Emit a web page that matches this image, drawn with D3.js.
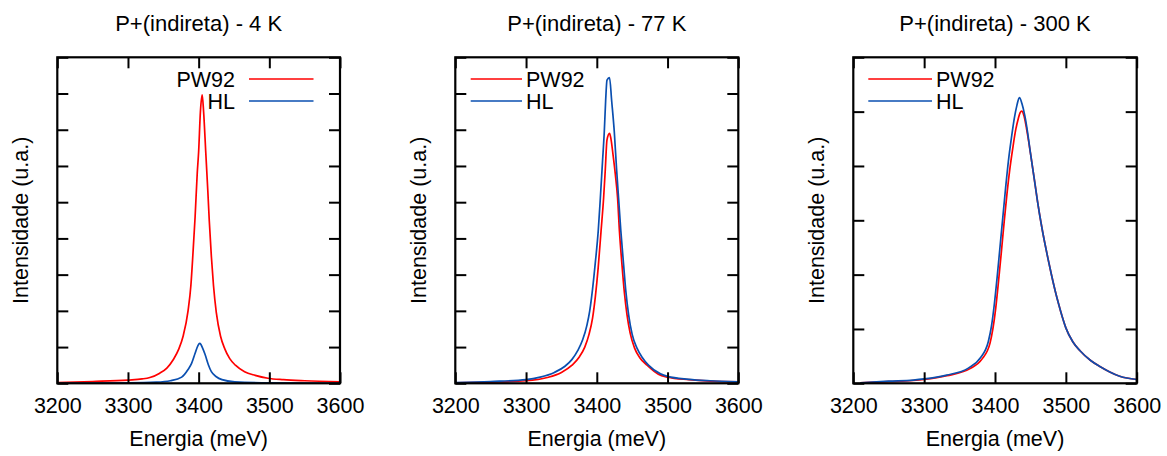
<!DOCTYPE html>
<html><head><meta charset="utf-8">
<script src="https://cdn.jsdelivr.net/npm/d3@7"></script>
<style>
html,body{margin:0;padding:0;background:#fff;}
svg text{font-family:"Liberation Sans",Arial,Helvetica,sans-serif;fill:#000;}
</style></head>
<body><svg id="chart" width="1167" height="456"></svg>
<script>
// ---------- DATA ----------
const titles = ["P+(indireta) - 4 K", "P+(indireta) - 77 K", "P+(indireta) - 300 K"];
const seriesNames = ["PW92", "HL"];
const xTicks = [3200, 3300, 3400, 3500, 3600];
const yMax = [9, 9, 6];

// [energy (meV), intensity (a.u.)]
const pw92_4K = [[3200,0.02],[3250,0.05],[3300,0.09],[3320,0.12],[3331,0.16],[3345,0.28],[3355,0.42],[3364,0.65],[3372,0.95],[3378,1.3],[3385,2.0],[3389,2.7],[3392,3.6],[3395,4.6],[3398,5.8],[3400,6.4],[3402.5,7.5],[3405,7.96],[3407,7.5],[3410,6.4],[3413,5.3],[3415,4.5],[3418,3.5],[3421,2.7],[3425,1.95],[3431,1.3],[3437,0.95],[3444,0.68],[3452,0.5],[3465,0.32],[3480,0.22],[3498,0.14],[3520,0.1],[3550,0.07],[3600,0.04]];
const hl_4K = [[3200,0.0],[3300,0.01],[3340,0.03],[3360,0.07],[3376,0.17],[3385,0.38],[3390,0.55],[3395,0.83],[3399,1.04],[3401.5,1.1],[3403,1.08],[3405,1.0],[3409,0.8],[3414,0.5],[3418,0.32],[3425,0.18],[3433,0.1],[3451,0.04],[3500,0.01],[3600,0.0]];

const pw92_77K = [[3200,0.01],[3250,0.03],[3300,0.07],[3330,0.16],[3350,0.3],[3365,0.5],[3375,0.72],[3383,1.0],[3389,1.35],[3394,1.8],[3398,2.4],[3402,3.2],[3406,4.2],[3409.6,5.11],[3412,5.9],[3414.4,6.72],[3418,6.9],[3420,6.75],[3423,6.3],[3426,5.8],[3429.4,5.11],[3432,4.2],[3435.6,3.27],[3439,2.5],[3442.7,1.89],[3447,1.4],[3453.4,0.97],[3461,0.7],[3471,0.5],[3487,0.25],[3500,0.17],[3530,0.1],[3560,0.06],[3600,0.04]];
const hl_77K = [[3200,0.02],[3250,0.05],[3300,0.1],[3320,0.17],[3340,0.3],[3355,0.47],[3365,0.66],[3373,0.9],[3380,1.2],[3386,1.6],[3390,2.0],[3394,2.6],[3398,3.35],[3402,4.2],[3405,5.11],[3408,6.1],[3410.6,6.95],[3412.5,7.8],[3414.4,8.37],[3418,8.44],[3421,7.8],[3424.7,6.95],[3428,5.9],[3430.8,5.11],[3434,4.2],[3437.9,3.27],[3441,2.55],[3445,1.89],[3450,1.35],[3456.8,0.97],[3464,0.72],[3473,0.5],[3490,0.26],[3500,0.19],[3530,0.11],[3560,0.07],[3600,0.04]];

const pw92_300K = [[3210,0.01],[3250,0.03],[3300,0.07],[3332,0.14],[3364.8,0.27],[3381.3,0.44],[3393,0.74],[3397,1.0],[3401,1.38],[3405,1.88],[3409,2.42],[3413,2.98],[3417,3.5],[3421,3.95],[3425,4.32],[3429,4.65],[3433,4.88],[3435.5,4.98],[3437.7,5.01],[3441,4.92],[3445,4.65],[3450,4.24],[3455,3.8],[3460,3.35],[3465,2.95],[3470,2.6],[3475,2.28],[3480,1.98],[3485,1.7],[3490,1.45],[3495,1.22],[3500,1.02],[3510,0.76],[3520,0.6],[3535,0.42],[3548,0.31],[3562,0.21],[3576,0.13],[3600,0.07]];
const hl_300K = [[3210,0.01],[3250,0.04],[3284.7,0.06],[3300,0.08],[3331.9,0.15],[3362.4,0.28],[3378.9,0.46],[3390.6,0.77],[3395,1.05],[3399,1.45],[3403,1.95],[3407,2.5],[3411,3.05],[3415,3.6],[3419,4.1],[3423,4.5],[3427.3,4.88],[3431,5.12],[3434.4,5.26],[3438,5.15],[3442,4.93],[3446,4.62],[3450,4.24],[3455,3.8],[3460,3.35],[3465,2.95],[3470,2.6],[3475,2.28],[3480,1.98],[3485,1.7],[3490,1.45],[3495,1.22],[3500,1.02],[3510,0.76],[3520,0.6],[3535,0.42],[3548,0.31],[3562,0.21],[3576,0.13],[3600,0.07]];

const panelData = [[pw92_4K, hl_4K],[pw92_77K, hl_77K],[pw92_300K, hl_300K]];
const colors = ["#ff0000", "#0a4fb0"];

// ---------- LAYOUT ----------
const frames = [[57.3, 340], [455.3, 738.3], [853.3, 1136.7]];
const plotTop = 57.3, plotBottom = 383.3;
const yLabelX = [28, 426, 824];
const legend = [
  {x1: 249, x2: 313.5, textX: 235, anchor: "end"},
  {x1: 470.7, x2: 522, textX: 526, anchor: "start"},
  {x1: 868.3, x2: 932, textX: 936, anchor: "start"}
];
const legendY = [79, 101];
const fs = 21.5, tickLen = 11;

const svg = d3.select("#chart");

panelData.forEach((series, i) => {
  const [x0, x1] = frames[i];
  const x = d3.scaleLinear().domain([3200, 3600]).range([x0, x1]);
  const y = d3.scaleLinear().domain([0, yMax[i]]).range([plotBottom, plotTop]);
  const g = svg.append("g");
  const yTicks = d3.range(0, yMax[i] + 1);

  const line = d3.line().curve(d3.curveMonotoneX).x(d => x(d[0])).y(d => y(d[1]));
  const clipId = "clip" + i;
  g.append("clipPath").attr("id", clipId).append("rect")
    .attr("x", x0).attr("y", plotTop).attr("width", x1 - x0).attr("height", plotBottom - plotTop);
  series.forEach((s, k) => {
    g.append("path").datum(s).attr("d", line)
      .attr("fill", "none").attr("stroke", colors[k]).attr("stroke-width", 1.7)
      .attr("stroke-linejoin", "round").attr("clip-path", `url(#${clipId})`);
  });

  const axB = g.append("g").attr("transform", `translate(0,${plotBottom})`)
    .call(d3.axisBottom(x).tickValues(xTicks).tickSize(-tickLen).tickSizeOuter(0).tickFormat(d3.format("d")));
  axB.selectAll("text").attr("dy", null).attr("y", 30).attr("font-size", fs)
    .attr("font-family", "Liberation Sans, Arial, sans-serif");
  const axT = g.append("g").attr("transform", `translate(0,${plotTop})`)
    .call(d3.axisTop(x).tickValues(xTicks).tickSize(-tickLen).tickSizeOuter(0).tickFormat(""));
  const axL = g.append("g").attr("transform", `translate(${x0},0)`)
    .call(d3.axisLeft(y).tickValues(yTicks).tickSize(-tickLen).tickSizeOuter(0).tickFormat(""));
  const axR = g.append("g").attr("transform", `translate(${x1},0)`)
    .call(d3.axisRight(y).tickValues(yTicks).tickSize(-tickLen).tickSizeOuter(0).tickFormat(""));
  [axB, axT, axL, axR].forEach(a => {
    a.select(".domain").remove();
    a.selectAll("line").attr("stroke", "#000").attr("stroke-width", 2);
  });

  g.append("rect").attr("x", x0).attr("y", plotTop).attr("width", x1 - x0).attr("height", plotBottom - plotTop)
    .attr("fill", "none").attr("stroke", "#000").attr("stroke-width", 2.2);

  g.append("text").attr("x", (x0 + x1) / 2).attr("y", 31).attr("text-anchor", "middle")
    .attr("font-size", 22).text(titles[i]);
  g.append("text").attr("x", (x0 + x1) / 2).attr("y", 446).attr("text-anchor", "middle")
    .attr("font-size", fs).text("Energia (meV)");
  g.append("text").attr("transform", `translate(${yLabelX[i]},${(plotTop + plotBottom) / 2}) rotate(-90)`)
    .attr("text-anchor", "middle").attr("font-size", fs).text("Intensidade (u.a.)");

  const L = legend[i];
  seriesNames.forEach((name, k) => {
    g.append("line").attr("x1", L.x1).attr("x2", L.x2).attr("y1", legendY[k]).attr("y2", legendY[k])
      .attr("stroke", colors[k]).attr("stroke-width", 1.7);
    g.append("text").attr("x", L.textX).attr("y", legendY[k] + 7.7).attr("text-anchor", L.anchor)
      .attr("font-size", fs).text(name);
  });
});
</script></body></html>
